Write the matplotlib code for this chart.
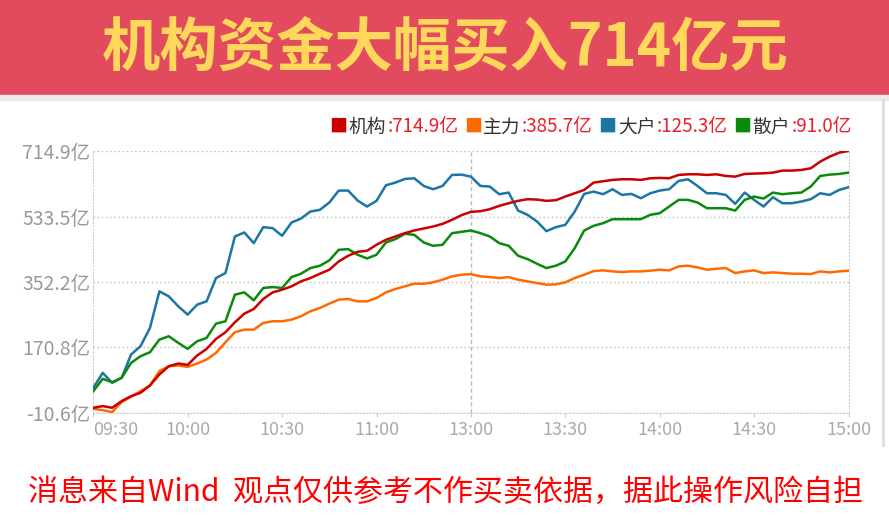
import matplotlib
matplotlib.use("Agg")
import matplotlib.pyplot as plt
from matplotlib.patches import Rectangle
from matplotlib.lines import Line2D
from matplotlib.offsetbox import TextArea, HPacker, AnchoredOffsetbox

plt.rcParams['font.family'] = ['Noto Sans CJK SC', 'DejaVu Sans']

title = "机构资金大幅买入714亿元"
footer = "消息来自Wind  观点仅供参考不作买卖依据，据此操作风险自担"

# sample times, minutes after 09:30 (trading minutes, lunch break removed)
minutes = list(range(0, 241, 3))

# values in 亿
jigou = [3.9, 8.5, 3.9, 22.3, 36.1, 45.3, 65.6, 96.0, 119.0, 126.4, 122.7, 148.5, 166.9, 194.5, 213.0, 240.6, 264.5, 277.4, 305.1, 323.5, 330.8,
         340.1, 353.9, 363.1, 375.1, 386.1, 409.1, 424.8, 435.8, 438.6, 455.2, 469.0, 478.2, 487.4, 494.8, 500.3, 505.8, 513.2, 524.3, 537.2, 546.4,
         548.2, 553.7, 562.9, 570.3, 576.8, 581.4, 580.4, 576.8, 578.6, 588.7, 597.9, 607.1, 627.4, 631.1, 634.8, 636.6, 636.6, 634.8, 639.4, 640.3,
         639.4, 648.6, 650.4, 650.4, 648.6, 650.4, 645.8, 644.0, 651.4, 652.3, 653.2, 655.0, 660.6, 660.6, 662.4, 667.0, 685.4, 699.2, 710.3, 714.9]
zhuli = [1.1, -2.6, -8.1, 19.6, 34.3, 49.9, 65.6, 105.2, 119.0, 120.9, 117.2, 126.4, 137.4, 155.9, 185.3, 213.0, 220.3, 220.3, 238.7, 243.4, 243.4,
         248.0, 257.2, 271.0, 280.2, 292.2, 303.2, 305.1, 298.6, 298.6, 307.8, 323.5, 332.7, 340.1, 347.4, 347.4, 351.1, 358.5, 367.7, 372.3, 374.1,
         367.7, 365.8, 363.1, 365.8, 358.5, 353.9, 349.3, 344.7, 345.6, 351.1, 363.1, 372.3, 382.4, 384.3, 381.5, 379.7, 381.5, 381.5, 383.4, 386.1,
         384.3, 395.3, 397.2, 392.6, 386.1, 388.9, 390.7, 376.9, 381.5, 384.3, 376.9, 378.7, 376.9, 375.1, 375.1, 374.1, 381.5, 378.7, 381.5, 383.4]
dahu = [59.2, 100.6, 73.0, 86.8, 151.3, 174.3, 224.9, 326.2, 312.4, 284.8, 261.8, 289.4, 298.6, 363.1, 376.9, 478.2, 489.3, 459.8, 504.0, 501.2, 480.1,
        516.9, 527.9, 547.3, 551.9, 572.2, 605.3, 605.3, 577.7, 561.1, 576.8, 620.0, 627.4, 637.5, 639.4, 618.2, 609.0, 618.2, 648.6, 649.5, 644.0,
        618.2, 616.4, 595.2, 599.8, 550.0, 538.1, 519.7, 492.9, 504.0, 510.4, 547.3, 596.1, 602.5, 595.2, 609.0, 593.3, 596.1, 584.1, 597.9, 605.3,
        609.0, 632.0, 636.6, 618.2, 597.9, 597.9, 593.3, 568.5, 599.8, 579.5, 561.1, 586.9, 570.3, 570.3, 574.9, 581.4, 597.9, 593.3, 607.1, 614.5]
sanhu = [49.9, 84.0, 74.8, 86.8, 128.2, 146.6, 157.7, 192.7, 201.9, 183.5, 166.9, 188.1, 197.3, 236.9, 243.4, 317.0, 323.5, 301.4, 335.5, 338.2, 335.5,
         365.8, 375.1, 390.7, 397.2, 411.9, 441.4, 443.2, 427.6, 417.4, 427.6, 461.6, 470.8, 485.6, 482.8, 461.6, 452.4, 455.2, 487.4, 491.1, 494.8,
         487.4, 478.2, 459.8, 452.4, 424.8, 415.6, 402.7, 390.7, 397.2, 409.1, 446.0, 494.8, 507.7, 515.0, 526.1, 526.1, 526.1, 526.1, 538.1, 542.7,
         561.1, 579.5, 579.5, 572.2, 556.5, 556.5, 556.5, 550.0, 579.5, 588.7, 583.2, 599.8, 595.2, 597.9, 599.8, 616.4, 645.8, 649.5, 651.4, 655.0]

legend_names = ["机构", "主力", "大户", "散户"]
legend_values = ["714.9亿", "385.7亿", "125.3亿", "91.0亿"]
y_ticks = [-10.6, 170.8, 352.2, 533.5, 714.9]
x_ticks = [0, 30, 60, 90, 120, 150, 180, 210, 240]
x_labels = ["09:30", "10:00", "10:30", "11:00", "13:00", "13:30", "14:00", "14:30", "15:00"]
colors = ['#CC0000', '#FF6A00', '#1B75A5', '#0A8A0A']

W, H = 889, 525
fig = plt.figure(figsize=(W / 100, H / 100), dpi=100)

# header banner
fig.patches.append(Rectangle((0, 1 - 95 / H), 1, 95 / H, transform=fig.transFigure,
                             color='#E24B5E', zorder=0))
fig.patches.append(Rectangle((0, 1 - 100 / H), 1, 5 / H, transform=fig.transFigure,
                             color='#EBEBEB', zorder=0))
fig.text(445 / W, 1 - 50 / H, title, ha='center', va='center', fontsize=42,
         fontweight='bold', color='#FFD75A')
fig.add_artist(Line2D([883 / W, 883 / W], [1 - 100 / H, 1 - 445 / H],
                      transform=fig.transFigure, color='#DDDDDD', lw=2))

ax = fig.add_axes([93.3 / W, 1 - 413 / H, 755.2 / W, 262 / H])
series = [zhuli, dahu, sanhu, jigou]
series_colors = [colors[1], colors[2], colors[3], colors[0]]
for vals, c in zip(series, series_colors):
    ax.plot(minutes, vals, color=c, lw=1.8, zorder=3)

ax.set_xlim(0, 240)
ax.set_ylim(-10.6, 714.9)

ax.set_yticks(y_ticks)
ax.set_yticklabels([f"{v}亿" for v in y_ticks])
ax.yaxis.grid(True, linestyle=(0, (1, 2)), color='#BBBBBB', lw=1)
ax.tick_params(axis='y', length=0, pad=2, labelsize=14, labelcolor='#999999')

ax.set_xticks(x_ticks)
ax.set_xticklabels(x_labels)
ax.tick_params(axis='x', length=3, color='#CCCCCC', pad=3, labelsize=13, labelcolor='#AAAAAA')
ax.get_xticklabels()[0].set_ha('left')

ax.axvline(120, color='#BBBBBB', linestyle=(0, (3, 2)), lw=1, zorder=1)

ax.spines['top'].set_visible(False)
for side in ['left', 'right', 'bottom']:
    ax.spines[side].set_linestyle((0, (1, 2)))
    ax.spines[side].set_color('#CCCCCC')

# legend row
items = []
for name, val, c in zip(legend_names, legend_values, colors):
    items.append(HPacker(children=[
        TextArea("■", textprops=dict(color=c, fontsize=13)),
        TextArea(name, textprops=dict(color='#333333', fontsize=13.5)),
        TextArea(":" + val, textprops=dict(color='#E8202A', fontsize=13.5)),
    ], sep=1, align='center'))
box = HPacker(children=items, sep=4, align='center')
anch = AnchoredOffsetbox(loc='center right', child=box, pad=0, borderpad=0, frameon=False,
                         bbox_to_anchor=(852 / W, 1 - 127 / H), bbox_transform=fig.transFigure)
ax.add_artist(anch)

fig.text(446 / W, 1 - 492 / H, footer, ha='center', va='center', fontsize=21.6, color='#FF0000')

fig.savefig('out.png', dpi=100)
